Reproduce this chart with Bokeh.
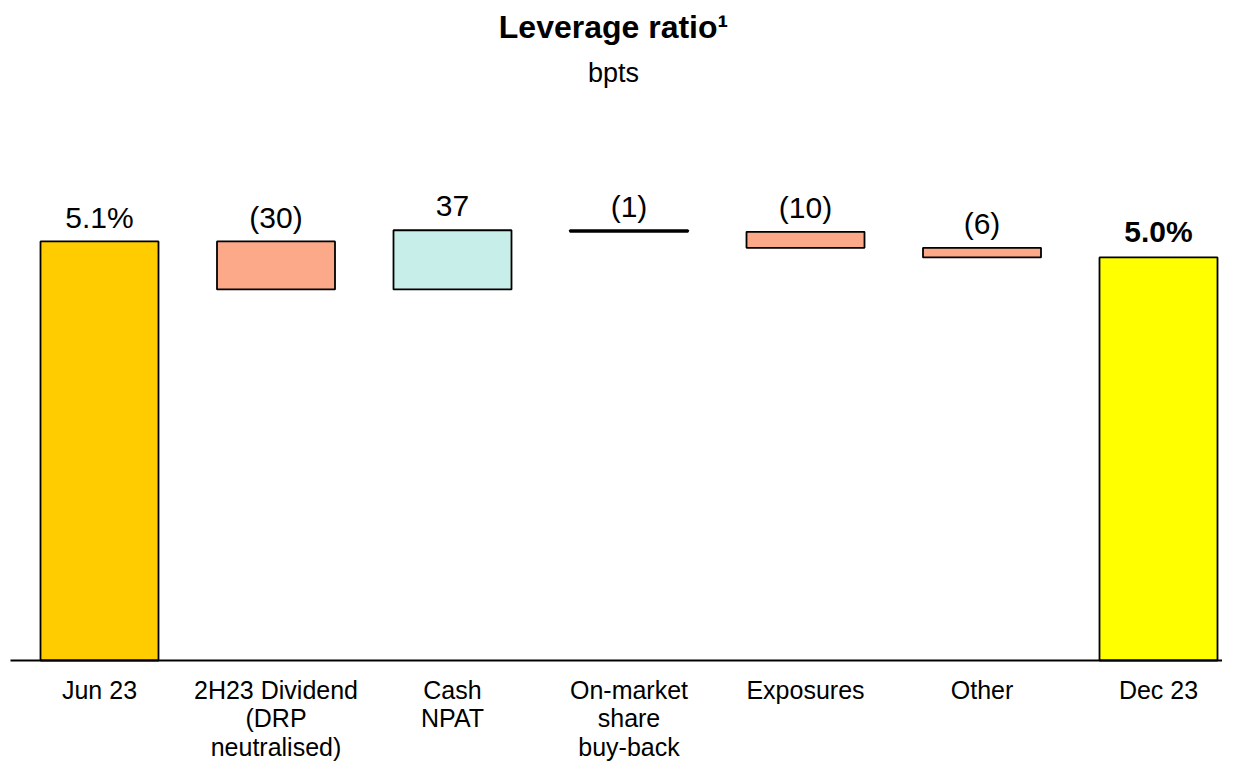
from bokeh.plotting import figure
from bokeh.models import Range1d, ColumnDataSource
from bokeh.core.properties import value
from bokeh.embed import file_html
from bokeh.resources import INLINE

# ---- data ----
categories = ["Jun 23", "2H23 Dividend\n(DRP\nneutralised)", "Cash\nNPAT",
              "On-market\nshare\nbuy-back", "Exposures", "Other", "Dec 23"]
start_bps = 510          # Jun 23 leverage ratio, 5.1%
changes_bps = [-30, 37, -1, -10, -6]
end_bps = 500            # Dec 23 leverage ratio, 5.0%
title_text = "Leverage ratio\u00b9"
subtitle_text = "bpts"

# ---- styling / layout ----
FONT = "Liberation Sans"
W, H = 1222, 763
PX = 1.6                  # pixels per bp
BASE = 248.1              # value at chart baseline (broken axis)
BASE_PX = 660             # canvas y of baseline
X0, DX = 99, 176.5        # canvas x of first category, spacing
C_START = "#FFCC00"
C_END = "#FFFF00"
C_NEG = "#FCA98A"
C_POS = "#C8EEEA"

def yv(py):
    # canvas y pixel -> data value
    return BASE + (BASE_PX - py) / PX

def xv(px):
    return (px - X0) / DX

p = figure(width=W, height=H, output_backend="svg", toolbar_location=None,
           x_range=Range1d(xv(0), xv(W)), y_range=Range1d(yv(H), yv(0)),
           min_border=0, outline_line_color=None)
p.axis.visible = False
p.grid.visible = False
p.background_fill_color = "white"
p.border_fill_color = "white"

# waterfall geometry from data
xs, bottoms, tops, colors, labels = [], [], [], [], []
xs.append(0); bottoms.append(BASE); tops.append(start_bps); colors.append(C_START)
labels.append(f"{start_bps/100:.1f}%")
run = start_bps
for i, c in enumerate(changes_bps):
    nxt = run + c
    xs.append(i + 1)
    bottoms.append(min(run, nxt)); tops.append(max(run, nxt))
    colors.append(C_POS if c > 0 else C_NEG)
    labels.append(f"{c}" if c > 0 else f"({-c})")
    run = nxt
xs.append(len(categories) - 1); bottoms.append(BASE); tops.append(end_bps); colors.append(C_END)
labels.append(f"{end_bps/100:.1f}%")

src = ColumnDataSource(dict(x=xs, bottom=bottoms, top=tops, color=colors))
p.vbar(x="x", width=118 / DX, bottom="bottom", top="top", source=src,
       fill_color="color", line_color="black", line_width=1.8)

# baseline
p.segment(x0=[xv(10)], y0=[BASE], x1=[xv(W)], y1=[BASE],
          line_color="black", line_width=2)

# value labels (alphabetic baseline renders ~0.4em low -> compensate)
FS_V = 30
comp = 0.4 * FS_V
p.text(x=xs[:-1], y=[t + (12 + comp) / PX for t in tops[:-1]], text=labels[:-1],
       text_font=value(FONT), text_font_size=f"{FS_V}px", text_align="center",
       text_baseline="alphabetic", text_color="black")
p.text(x=[xs[-1]], y=[tops[-1] + (14 + comp) / PX], text=[labels[-1]],
       text_font=value(FONT), text_font_size=f"{FS_V}px", text_font_style="bold",
       text_align="center", text_baseline="alphabetic", text_color="black")

# category labels
p.text(x=list(range(len(categories))), y=[yv(675)] * len(categories),
       text=categories, text_font=value(FONT), text_font_size="25px",
       text_align="center", text_baseline="top", text_line_height=1.03,
       text_color="black")

# titles
xc = xv(613)
p.text(x=[xc], y=[yv(39 - 0.4 * 32)], text=[title_text], text_font=value(FONT),
       text_font_size="32px", text_font_style="bold", text_align="center",
       text_baseline="alphabetic", text_color="black")
p.text(x=[xc], y=[yv(83 - 0.4 * 27)], text=[subtitle_text], text_font=value(FONT),
       text_font_size="27px", text_align="center", text_baseline="alphabetic",
       text_color="black")

open("out.html", "w").write(file_html(p, INLINE))
